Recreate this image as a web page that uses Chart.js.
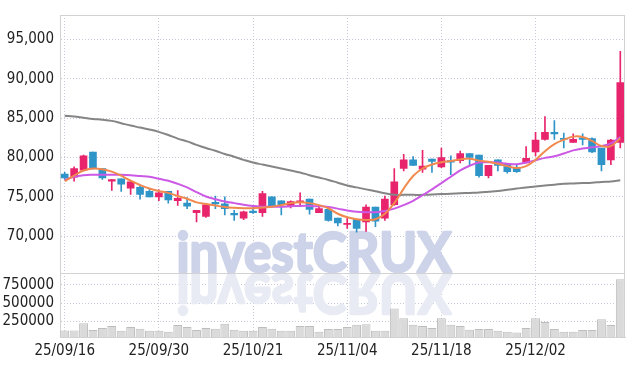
<!DOCTYPE html>
<html><head><meta charset="utf-8">
<script src="https://cdn.jsdelivr.net/npm/chart.js@4.4.1/dist/chart.umd.min.js"></script>
<style>html,body{margin:0;padding:0;background:#fff;overflow:hidden}</style>
</head><body>
<canvas id="c" width="634" height="366"></canvas>
<script>
const dates = ['25/09/16','25/09/17','25/09/18','25/09/19','25/09/22','25/09/23','25/09/24','25/09/25','25/09/26','25/09/29',
'25/09/30','25/10/01','25/10/02','25/10/10','25/10/13','25/10/14','25/10/15','25/10/16','25/10/17','25/10/20',
'25/10/21','25/10/22','25/10/23','25/10/24','25/10/27','25/10/28','25/10/29','25/10/30','25/10/31','25/11/03',
'25/11/04','25/11/05','25/11/06','25/11/07','25/11/10','25/11/11','25/11/12','25/11/13','25/11/14','25/11/17',
'25/11/18','25/11/19','25/11/20','25/11/21','25/11/24','25/11/25','25/11/26','25/11/27','25/11/28','25/12/01',
'25/12/02','25/12/03','25/12/04','25/12/05','25/12/08','25/12/09','25/12/10','25/12/11','25/12/12','25/12/15'];
const opens = [77900,77500,78400,80700,78600,77000,77300,76100,76200,75700,75000,75700,74500,74200,73000,72500,74300,74100,72900,72300,73200,73000,75000,74500,73800,74300,74700,73000,73400,72300,71500,72100,71800,73700,72300,74000,78600,79700,78500,79800,78800,79600,79600,80500,80300,77700,79700,79200,78700,79300,80700,82300,83200,82400,81900,82500,82400,81200,79700,81900];
const highs = [78100,78800,80300,80700,78600,77200,77300,77000,76500,76000,75900,75700,75800,74900,73300,74100,75100,75000,73300,73200,73700,75700,75000,74500,74500,75500,74700,73700,73400,72300,72300,72100,74000,73700,75100,78600,80400,80100,80900,79800,81200,80200,80800,80500,80300,79000,79700,79200,79000,81400,83200,85200,84700,83100,83000,83000,82500,81200,82300,93500];
const lows = [77200,77000,78300,78500,77200,75800,75700,75300,74700,75000,74500,74200,73900,73500,71800,72400,73500,72700,72000,72100,72900,72500,73700,72700,73600,73800,72800,73000,71900,71300,71000,70500,70600,71200,72000,73900,78300,79000,78100,78100,78700,77800,79300,79100,77500,77400,78300,78000,78100,79300,80200,82200,82300,81200,81900,81600,80600,78300,79100,81200];
const closes = [77400,78600,80200,78600,77400,77200,76600,76900,75300,75000,75500,74600,74800,73800,73300,74000,74100,73500,72700,73100,73000,75400,73800,74000,74400,74500,73400,73500,72000,71700,71600,71000,73700,71900,74700,76900,79700,79000,78900,79500,80000,79400,80500,80000,77700,79000,79000,78200,78200,79900,82200,83200,83000,82300,82300,82300,80700,79100,82200,89500];
const volumes = [130000,130000,229000,136000,162000,189000,126000,176000,153000,126000,126000,113000,202000,176000,136000,162000,153000,219000,140000,126000,126000,176000,153000,126000,126000,189000,189000,113000,149000,149000,176000,206000,215000,126000,126000,428000,295000,206000,189000,162000,295000,206000,189000,140000,149000,149000,126000,113000,100000,162000,295000,246000,149000,113000,113000,136000,136000,282000,202000,827000];
const ma5 = [77000,77700,78350,78600,78500,78200,77700,77050,76500,76050,75750,75500,75100,74750,74300,74100,73900,73700,73600,73550,73550,73650,73750,73950,74200,74300,74200,73950,73550,72850,72400,72150,72050,72150,72850,74200,76050,77650,78600,79100,79400,79550,79750,79850,79600,79450,79200,78900,78650,78900,79700,80800,81700,82250,82650,82600,82100,81450,81450,82450];
const ma20 = [77150,77550,77750,77800,77800,77800,77800,77750,77650,77550,77300,77050,76650,76200,75600,75050,74700,74400,74200,74000,73850,73750,73750,73750,73800,73850,73850,73800,73700,73500,73250,73100,73050,73050,73200,73500,73950,74500,75200,75950,76750,77550,78350,78950,79350,79400,79350,79200,79150,79350,79650,79950,80150,80500,80900,81150,81300,81450,81800,82600];
const ma60 = [85300,85200,85050,84900,84800,84650,84350,84050,83800,83550,83250,82850,82400,82050,81600,81200,80850,80450,80100,79700,79350,79100,78850,78600,78350,78100,77750,77450,77150,76800,76450,76200,75950,75700,75450,75250,75250,75250,75250,75300,75350,75400,75450,75500,75550,75650,75750,75900,76050,76200,76300,76450,76550,76650,76700,76750,76800,76900,76950,77100];
const priceTicks = [70000,75000,80000,85000,90000,95000];
const volumeTicks = [250000,500000,750000];

const UP = '#e8246c', DOWN = '#2f94c8';
const candleColors = opens.map((o, i) => closes[i] >= o ? UP : DOWN);
const bodies = opens.map((o, i) => [o, closes[i]]);
const wicks = lows.map((l, i) => [l, highs[i]]);

const FONT = "'Liberation Sans Narrow','DejaVu Sans Condensed',sans-serif";
const GRID = '#c6cad8';
const FRAME = '#d2d2d2';
const WM_FONT = "bold 55px Lato, 'DejaVu Sans', sans-serif";

const frame = {
  id: 'frame',
  beforeDatasetsDraw(chart) {
    const {ctx, chartArea: a} = chart;
    const sep = chart.scales.yv.top;
    const cx = 314;
    ctx.save();
    ctx.font = WM_FONT;
    ctx.textAlign = 'center';
    ctx.textBaseline = 'alphabetic';
    ctx.lineJoin = 'round';
    ctx.translate(cx, 0); ctx.scale(0.93, 1);
    ctx.fillStyle = 'rgb(205,211,232)';
    ctx.strokeStyle = 'rgb(205,211,232)';
    ctx.lineWidth = 2.5;
    ctx.strokeText('investCRUX', 0, sep - 1);
    ctx.fillText('investCRUX', 0, sep - 1);
    ctx.restore();
    ctx.save();
    ctx.beginPath(); ctx.rect(a.left, sep, a.width, a.bottom - sep); ctx.clip();
    ctx.font = WM_FONT;
    ctx.textAlign = 'center';
    ctx.textBaseline = 'alphabetic';
    ctx.lineJoin = 'round';
    ctx.translate(cx, 2 * sep); ctx.scale(0.93, -1);
    ctx.fillStyle = 'rgb(232,235,244)';
    ctx.strokeStyle = 'rgb(232,235,244)';
    ctx.lineWidth = 2.5;
    ctx.strokeText('investCRUX', 0, sep - 1);
    ctx.fillText('investCRUX', 0, sep - 1);
    ctx.restore();
  },
  afterDraw(chart) {
    const {ctx, chartArea: a} = chart;
    const sep = chart.scales.yv.top;
    ctx.save();
    ctx.strokeStyle = FRAME; ctx.lineWidth = 1;
    ctx.beginPath();
    ctx.moveTo(a.left, a.top + 0.5); ctx.lineTo(a.right, a.top + 0.5);
    ctx.moveTo(a.right - 0.5, a.top); ctx.lineTo(a.right - 0.5, a.bottom);
    ctx.moveTo(a.left, Math.round(sep) + 0.5); ctx.lineTo(a.right, Math.round(sep) + 0.5);
    ctx.stroke();
    ctx.restore();
  }
};

new Chart(document.getElementById('c'), {
  type: 'bar',
  data: {
    labels: dates,
    datasets: [
      {type: 'line', data: ma5, yAxisID: 'y', borderColor: '#f0894e', borderWidth: 2, pointRadius: 0, tension: 0.4, order: 0},
      {type: 'line', data: ma20, yAxisID: 'y', borderColor: '#cc58e6', borderWidth: 2, pointRadius: 0, tension: 0.4, order: 0},
      {type: 'line', data: ma60, yAxisID: 'y', borderColor: '#858585', borderWidth: 2, pointRadius: 0, tension: 0.4, order: 0},
      {data: bodies, yAxisID: 'y', backgroundColor: candleColors, barThickness: 7, grouped: false, minBarLength: 1, borderWidth: 0, order: 1},
      {data: wicks, yAxisID: 'y', backgroundColor: candleColors, barThickness: 1, grouped: false, borderWidth: 0, order: 2},
      {data: volumes, yAxisID: 'yv', backgroundColor: '#dadada', borderColor: '#bdbdbd', borderWidth: 1, barPercentage: 1, categoryPercentage: 0.94, grouped: false, order: 3}
    ]
  },
  options: {
    responsive: false, animation: false, devicePixelRatio: 1,
    layout: {padding: {top: 9, right: 9, left: 0, bottom: 0}},
    plugins: {legend: {display: false}, tooltip: {enabled: false}},
    scales: {
      x: {
        type: 'category', offset: true,
        grid: {offset: false, color: GRID, drawTicks: false},
        border: {display: true, color: FRAME, dash: [1, 2]},
        ticks: {autoSkip: false, maxRotation: 0, padding: 5, color: '#222', font: {family: FONT, size: 15},
          callback: (v, i) => (i % 10 === 0 ? dates[i] : null)},
        afterFit: s => { s.height = 29; }
      },
      yv: {
        type: 'linear', position: 'left', stack: 'p', stackWeight: 65,
        min: 40000, max: 910000,
        grid: {color: GRID, drawTicks: false},
        border: {display: true, color: FRAME, dash: [1, 2]},
        ticks: {autoSkip: false, padding: 6, color: '#222', font: {family: FONT, size: 15}, callback: v => String(v)},
        afterBuildTicks: s => { s.ticks = volumeTicks.map(v => ({value: v})); },
        afterFit: s => { s.width = 60; }
      },
      y: {
        type: 'linear', position: 'left', stack: 'p', stackWeight: 263,
        min: 65300, max: 98100,
        grid: {color: GRID, drawTicks: false},
        border: {display: true, color: FRAME, dash: [1, 2]},
        ticks: {autoSkip: false, padding: 6, color: '#222', font: {family: FONT, size: 15}, callback: v => v.toLocaleString('en-US')},
        afterBuildTicks: s => { s.ticks = priceTicks.map(v => ({value: v})); },
        afterFit: s => { s.width = 60; }
      }
    }
  },
  plugins: [frame]
});
</script>
</body></html>
